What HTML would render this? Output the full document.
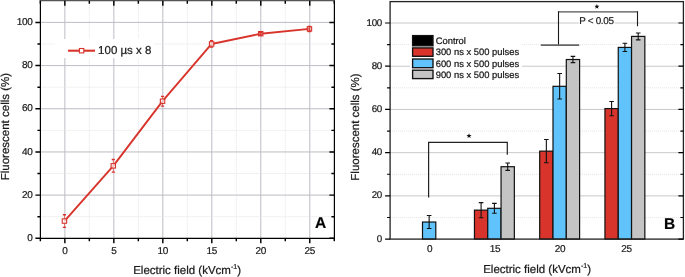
<!DOCTYPE html>
<html><head><meta charset="utf-8"><style>
html,body{margin:0;padding:0;background:#fff;width:685px;height:277px;overflow:hidden}
svg{display:block;font-family:"Liberation Sans", sans-serif;will-change:transform;text-rendering:geometricPrecision}
text{stroke:#1a1a1a;stroke-width:0.22px}
</style></head><body>
<svg width="685" height="277" viewBox="0 0 685 277">
<line x1="64.85" y1="0.81" x2="64.85" y2="238.3" stroke="#bdbdc5" stroke-width="1"/>
<line x1="113.83" y1="0.81" x2="113.83" y2="238.3" stroke="#bdbdc5" stroke-width="1"/>
<line x1="162.82" y1="0.81" x2="162.82" y2="238.3" stroke="#bdbdc5" stroke-width="1"/>
<line x1="211.81" y1="0.81" x2="211.81" y2="238.3" stroke="#bdbdc5" stroke-width="1"/>
<line x1="260.79" y1="0.81" x2="260.79" y2="238.3" stroke="#bdbdc5" stroke-width="1"/>
<line x1="309.77" y1="0.81" x2="309.77" y2="238.3" stroke="#bdbdc5" stroke-width="1"/>
<line x1="89.34" y1="0.81" x2="89.34" y2="238.3" stroke="#e3e3e3" stroke-width="1" stroke-dasharray="1,1"/>
<line x1="138.33" y1="0.81" x2="138.33" y2="238.3" stroke="#e3e3e3" stroke-width="1" stroke-dasharray="1,1"/>
<line x1="187.31" y1="0.81" x2="187.31" y2="238.3" stroke="#e3e3e3" stroke-width="1" stroke-dasharray="1,1"/>
<line x1="236.3" y1="0.81" x2="236.3" y2="238.3" stroke="#e3e3e3" stroke-width="1" stroke-dasharray="1,1"/>
<line x1="285.28" y1="0.81" x2="285.28" y2="238.3" stroke="#e3e3e3" stroke-width="1" stroke-dasharray="1,1"/>
<line x1="40.4" y1="195.12" x2="334.4" y2="195.12" stroke="#bdbdc5" stroke-width="1"/>
<line x1="40.4" y1="151.94" x2="334.4" y2="151.94" stroke="#bdbdc5" stroke-width="1"/>
<line x1="40.4" y1="108.76" x2="334.4" y2="108.76" stroke="#bdbdc5" stroke-width="1"/>
<line x1="40.4" y1="65.58" x2="334.4" y2="65.58" stroke="#bdbdc5" stroke-width="1"/>
<line x1="40.4" y1="22.4" x2="334.4" y2="22.4" stroke="#bdbdc5" stroke-width="1"/>
<line x1="40.4" y1="216.71" x2="334.4" y2="216.71" stroke="#e3e3e3" stroke-width="1" stroke-dasharray="1,1"/>
<line x1="40.4" y1="173.53" x2="334.4" y2="173.53" stroke="#e3e3e3" stroke-width="1" stroke-dasharray="1,1"/>
<line x1="40.4" y1="130.35" x2="334.4" y2="130.35" stroke="#e3e3e3" stroke-width="1" stroke-dasharray="1,1"/>
<line x1="40.4" y1="87.17" x2="334.4" y2="87.17" stroke="#e3e3e3" stroke-width="1" stroke-dasharray="1,1"/>
<line x1="40.4" y1="43.99" x2="334.4" y2="43.99" stroke="#e3e3e3" stroke-width="1" stroke-dasharray="1,1"/>
<rect x="55" y="39" width="99" height="19" fill="#fff"/>
<path d="M64.45,221.05 L113.3,165.85 L162.55,101.2 L211.6,43.95 L260.7,33.7 L309.45,28.9" fill="none" stroke="#d8342c" stroke-width="1.9" stroke-linejoin="round"/>
<rect x="62.25" y="218.85" width="4.4" height="4.4" fill="#fff" fill-opacity="0.7" stroke="#d8342c" stroke-width="1.1"/>
<path d="M64.45,214.75 V218.85 M64.45,223.25 V227.35" stroke="#d8342c" stroke-width="0.65" fill="none"/>
<path d="M62.85,214.75 H66.05 M62.85,227.35 H66.05" stroke="#d8342c" stroke-width="1.3" fill="none"/>
<rect x="111.1" y="163.65" width="4.4" height="4.4" fill="#fff" fill-opacity="0.7" stroke="#d8342c" stroke-width="1.1"/>
<path d="M113.3,159.5 V163.65 M113.3,168.05 V172.2" stroke="#d8342c" stroke-width="0.65" fill="none"/>
<path d="M111.7,159.5 H114.9 M111.7,172.2 H114.9" stroke="#d8342c" stroke-width="1.3" fill="none"/>
<rect x="160.35" y="99" width="4.4" height="4.4" fill="#fff" fill-opacity="0.7" stroke="#d8342c" stroke-width="1.1"/>
<path d="M162.55,96.3 V99 M162.55,103.4 V106.1" stroke="#d8342c" stroke-width="0.65" fill="none"/>
<path d="M160.95,96.3 H164.15 M160.95,106.1 H164.15" stroke="#d8342c" stroke-width="1.3" fill="none"/>
<rect x="209.4" y="41.75" width="4.4" height="4.4" fill="#fff" fill-opacity="0.7" stroke="#d8342c" stroke-width="1.1"/>
<path d="M211.6,40.75 V41.75 M211.6,46.15 V47.15" stroke="#d8342c" stroke-width="0.65" fill="none"/>
<path d="M210,40.75 H213.2 M210,47.15 H213.2" stroke="#d8342c" stroke-width="1.3" fill="none"/>
<rect x="258.5" y="31.5" width="4.4" height="4.4" fill="#ee9e9a" fill-opacity="0.7" stroke="#d8342c" stroke-width="1.1"/>
<path d="M260.7,32.4 V31.5 M260.7,35.9 V35" stroke="#d8342c" stroke-width="0.65" fill="none"/>
<path d="M259.1,32.4 H262.3 M259.1,35 H262.3" stroke="#d8342c" stroke-width="1.3" fill="none"/>
<path d="M260.7,31.5 V35.9" stroke="#d8342c" stroke-width="0.9" fill="none"/>
<rect x="307.25" y="26.7" width="4.4" height="4.4" fill="#ee9e9a" fill-opacity="0.7" stroke="#d8342c" stroke-width="1.1"/>
<path d="M309.45,26.3 V26.7 M309.45,31.1 V31.5" stroke="#d8342c" stroke-width="0.65" fill="none"/>
<path d="M307.85,26.3 H311.05 M307.85,31.5 H311.05" stroke="#d8342c" stroke-width="1.3" fill="none"/>
<path d="M309.45,26.7 V31.1" stroke="#d8342c" stroke-width="0.9" fill="none"/>
<line x1="68" y1="50.7" x2="95" y2="50.7" stroke="#d8342c" stroke-width="2.1"/>
<rect x="79.4" y="48.5" width="4.4" height="4.4" fill="#fff" stroke="#d8342c" stroke-width="1.1"/>
<text x="98.1" y="54.4" font-size="11.5" fill="#1a1a1a">100 µs x 8</text>
<path d="M40.4,0 V238.3 H334.4 V0" fill="none" stroke="#000" stroke-width="1.2"/>
<line x1="39.8" y1="0.6" x2="335" y2="0.6" stroke="#555" stroke-width="1.2"/>
<path d="M35.4,238.3 H40.4 M329.4,238.3 H334.4 M35.4,195.12 H40.4 M329.4,195.12 H334.4 M35.4,151.94 H40.4 M329.4,151.94 H334.4 M35.4,108.76 H40.4 M329.4,108.76 H334.4 M35.4,65.58 H40.4 M329.4,65.58 H334.4 M35.4,22.4 H40.4 M329.4,22.4 H334.4 M37.4,216.71 H40.4 M331.4,216.71 H334.4 M37.4,173.53 H40.4 M331.4,173.53 H334.4 M37.4,130.35 H40.4 M331.4,130.35 H334.4 M37.4,87.17 H40.4 M331.4,87.17 H334.4 M37.4,43.99 H40.4 M331.4,43.99 H334.4 M64.85,238.3 V243.3 M64.85,0.81 V5.81 M113.83,238.3 V243.3 M113.83,0.81 V5.81 M162.82,238.3 V243.3 M162.82,0.81 V5.81 M211.81,238.3 V243.3 M211.81,0.81 V5.81 M260.79,238.3 V243.3 M260.79,0.81 V5.81 M309.77,238.3 V243.3 M309.77,0.81 V5.81 M40.36,238.3 V241.3 M40.36,0.81 V3.81 M89.34,238.3 V241.3 M89.34,0.81 V3.81 M138.33,238.3 V241.3 M138.33,0.81 V3.81 M187.31,238.3 V241.3 M187.31,0.81 V3.81 M236.3,238.3 V241.3 M236.3,0.81 V3.81 M285.28,238.3 V241.3 M285.28,0.81 V3.81 M334.27,238.3 V241.3 M334.27,0.81 V3.81" stroke="#000" stroke-width="1.45" fill="none"/>
<text x="32.4" y="241" font-size="10" letter-spacing="-0.35" text-anchor="end" fill="#1a1a1a">0</text>
<text x="32.4" y="197.82" font-size="10" letter-spacing="-0.35" text-anchor="end" fill="#1a1a1a">20</text>
<text x="32.4" y="154.64" font-size="10" letter-spacing="-0.35" text-anchor="end" fill="#1a1a1a">40</text>
<text x="32.4" y="111.46" font-size="10" letter-spacing="-0.35" text-anchor="end" fill="#1a1a1a">60</text>
<text x="32.4" y="68.28" font-size="10" letter-spacing="-0.35" text-anchor="end" fill="#1a1a1a">80</text>
<text x="32.4" y="25.1" font-size="10" letter-spacing="-0.35" text-anchor="end" fill="#1a1a1a">100</text>
<text x="64.85" y="254" font-size="10" letter-spacing="-0.3" text-anchor="middle" fill="#1a1a1a">0</text>
<text x="113.83" y="254" font-size="10" letter-spacing="-0.3" text-anchor="middle" fill="#1a1a1a">5</text>
<text x="162.82" y="254" font-size="10" letter-spacing="-0.3" text-anchor="middle" fill="#1a1a1a">10</text>
<text x="211.81" y="254" font-size="10" letter-spacing="-0.3" text-anchor="middle" fill="#1a1a1a">15</text>
<text x="260.79" y="254" font-size="10" letter-spacing="-0.3" text-anchor="middle" fill="#1a1a1a">20</text>
<text x="309.77" y="254" font-size="10" letter-spacing="-0.3" text-anchor="middle" fill="#1a1a1a">25</text>
<text x="187.1" y="274.2" font-size="11.5" text-anchor="middle" fill="#1a1a1a">Electric field (kVcm<tspan font-size="7" dy="-5">-1</tspan><tspan dy="5">)</tspan></text>
<text transform="translate(9.0,126.6) rotate(-90)" font-size="11.5" text-anchor="middle" fill="#1a1a1a">Fluorescent cells (%)</text>
<text x="315" y="228.3" font-size="15.5" font-weight="bold" fill="#000">A</text>
<line x1="390.1" y1="195.88" x2="683.4" y2="195.88" stroke="#c8c8ce" stroke-width="1"/>
<line x1="390.1" y1="152.66" x2="683.4" y2="152.66" stroke="#c8c8ce" stroke-width="1"/>
<line x1="390.1" y1="109.44" x2="683.4" y2="109.44" stroke="#c8c8ce" stroke-width="1"/>
<line x1="390.1" y1="66.22" x2="683.4" y2="66.22" stroke="#c8c8ce" stroke-width="1"/>
<line x1="390.1" y1="23" x2="683.4" y2="23" stroke="#c8c8ce" stroke-width="1"/>
<line x1="390.1" y1="217.49" x2="683.4" y2="217.49" stroke="#e3e3e3" stroke-width="1" stroke-dasharray="1,1"/>
<line x1="390.1" y1="174.27" x2="683.4" y2="174.27" stroke="#e3e3e3" stroke-width="1" stroke-dasharray="1,1"/>
<line x1="390.1" y1="131.05" x2="683.4" y2="131.05" stroke="#e3e3e3" stroke-width="1" stroke-dasharray="1,1"/>
<line x1="390.1" y1="87.83" x2="683.4" y2="87.83" stroke="#e3e3e3" stroke-width="1" stroke-dasharray="1,1"/>
<line x1="390.1" y1="44.61" x2="683.4" y2="44.61" stroke="#e3e3e3" stroke-width="1" stroke-dasharray="1,1"/>
<rect x="410" y="33" width="112" height="48" fill="#fff"/>
<rect x="422.5" y="222.03" width="13.3" height="17.07" fill="#60c3fb" stroke="#111" stroke-width="1.2"/>
<path d="M429.15,215.55 V228.51 M426.85,215.55 H431.45 M426.85,228.51 H431.45" stroke="#111" stroke-width="1.1" fill="none"/>
<rect x="474.45" y="210.14" width="13.3" height="28.96" fill="#d8342c" stroke="#111" stroke-width="1.2"/>
<path d="M481.1,202.58 V217.71 M478.8,202.58 H483.4 M478.8,217.71 H483.4" stroke="#111" stroke-width="1.1" fill="none"/>
<rect x="487.75" y="208.31" width="13.3" height="30.79" fill="#60c3fb" stroke="#111" stroke-width="1.2"/>
<path d="M494.4,203.34 V213.28 M492.1,203.34 H496.7 M492.1,213.28 H496.7" stroke="#111" stroke-width="1.1" fill="none"/>
<rect x="501.05" y="166.71" width="13.3" height="72.39" fill="#c4c4c4" stroke="#111" stroke-width="1.2"/>
<path d="M507.7,163.03 V170.38 M505.4,163.03 H510 M505.4,170.38 H510" stroke="#111" stroke-width="1.1" fill="none"/>
<rect x="539.7" y="151.15" width="13.3" height="87.95" fill="#d8342c" stroke="#111" stroke-width="1.2"/>
<path d="M546.35,139.48 V162.82 M544.05,139.48 H548.65 M544.05,162.82 H548.65" stroke="#111" stroke-width="1.1" fill="none"/>
<rect x="553" y="86.32" width="13.3" height="152.78" fill="#60c3fb" stroke="#111" stroke-width="1.2"/>
<path d="M559.65,73.57 V99.07 M557.35,73.57 H561.95 M557.35,99.07 H561.95" stroke="#111" stroke-width="1.1" fill="none"/>
<rect x="566.3" y="59.52" width="13.3" height="179.58" fill="#c4c4c4" stroke="#111" stroke-width="1.2"/>
<path d="M572.95,56.39 V62.65 M570.65,56.39 H575.25 M570.65,62.65 H575.25" stroke="#111" stroke-width="1.1" fill="none"/>
<rect x="604.95" y="108.58" width="13.3" height="130.52" fill="#d8342c" stroke="#111" stroke-width="1.2"/>
<path d="M611.6,101.44 V115.71 M609.3,101.44 H613.9 M609.3,115.71 H613.9" stroke="#111" stroke-width="1.1" fill="none"/>
<rect x="618.25" y="47.42" width="13.3" height="191.68" fill="#60c3fb" stroke="#111" stroke-width="1.2"/>
<path d="M624.9,43.31 V51.53 M622.6,43.31 H627.2 M622.6,51.53 H627.2" stroke="#111" stroke-width="1.1" fill="none"/>
<rect x="631.55" y="36.4" width="13.3" height="202.7" fill="#c4c4c4" stroke="#111" stroke-width="1.2"/>
<path d="M638.2,32.94 V39.86 M635.9,32.94 H640.5 M635.9,39.86 H640.5" stroke="#111" stroke-width="1.1" fill="none"/>
<path d="M428.6,197.5 V142.4 H507.3 V154.7" stroke="#222" stroke-width="1.2" fill="none"/>
<polygon points="469.00,133.20 469.68,134.97 471.57,135.07 470.09,136.26 470.59,138.08 469.00,137.05 467.41,138.08 467.91,136.26 466.43,135.07 468.32,134.97" fill="#111"/>
<path d="M540.8,45.1 H579.2" stroke="#666" stroke-width="1.8" fill="none"/>
<path d="M558.2,11.9 H637.7" stroke="#555" stroke-width="1.4" fill="none"/>
<path d="M558.5,11.3 V44.5 M637.5,11.3 V26.2" stroke="#1a1a1a" stroke-width="1.1" fill="none"/>
<polygon points="596.90,3.90 597.58,5.67 599.47,5.77 597.99,6.96 598.49,8.78 596.90,7.75 595.31,8.78 595.81,6.96 594.33,5.77 596.22,5.67" fill="#111"/>
<rect x="578.8" y="15.5" width="35.9" height="10" fill="#fff"/>
<text x="579.3" y="23.6" font-size="9.9" letter-spacing="-0.32" fill="#1a1a1a">P &lt; 0.05</text>
<rect x="412.6" y="35.6" width="20.4" height="10.2" fill="#000" stroke="#111" stroke-width="1.35"/>
<text x="435.7" y="44.05" font-size="9.4" fill="#111">Control</text>
<rect x="412.6" y="47.9" width="20.4" height="8.4" fill="#d8342c" stroke="#111" stroke-width="1.35"/>
<text x="435.7" y="55.45" font-size="9.4" fill="#111">300 ns x 500 pulses</text>
<rect x="412.6" y="59" width="20.4" height="8.7" fill="#60c3fb" stroke="#111" stroke-width="1.35"/>
<text x="435.7" y="66.7" font-size="9.4" fill="#111">600 ns x 500 pulses</text>
<rect x="412.6" y="70.2" width="20.4" height="8.4" fill="#c4c4c4" stroke="#111" stroke-width="1.35"/>
<text x="435.7" y="77.75" font-size="9.4" fill="#111">900 ns x 500 pulses</text>
<rect x="390.1" y="1.6" width="293.3" height="237.5" fill="none" stroke="#222" stroke-width="1.3"/>
<path d="M385.1,239.1 H390.1 M678.4,239.1 H683.4 M385.1,195.88 H390.1 M678.4,195.88 H683.4 M385.1,152.66 H390.1 M678.4,152.66 H683.4 M385.1,109.44 H390.1 M678.4,109.44 H683.4 M385.1,66.22 H390.1 M678.4,66.22 H683.4 M385.1,23 H390.1 M678.4,23 H683.4 M387.1,217.49 H390.1 M680.4,217.49 H683.4 M387.1,174.27 H390.1 M680.4,174.27 H683.4 M387.1,131.05 H390.1 M680.4,131.05 H683.4 M387.1,87.83 H390.1 M680.4,87.83 H683.4 M387.1,44.61 H390.1 M680.4,44.61 H683.4" stroke="#000" stroke-width="1.2" fill="none"/>
<text x="382.0" y="241.7" font-size="9.8" letter-spacing="-0.3" text-anchor="end" fill="#1a1a1a">0</text>
<text x="382.0" y="198.48" font-size="9.8" letter-spacing="-0.3" text-anchor="end" fill="#1a1a1a">20</text>
<text x="382.0" y="155.26" font-size="9.8" letter-spacing="-0.3" text-anchor="end" fill="#1a1a1a">40</text>
<text x="382.0" y="112.04" font-size="9.8" letter-spacing="-0.3" text-anchor="end" fill="#1a1a1a">60</text>
<text x="382.0" y="68.82" font-size="9.8" letter-spacing="-0.3" text-anchor="end" fill="#1a1a1a">80</text>
<text x="382.0" y="25.6" font-size="9.8" letter-spacing="-0.3" text-anchor="end" fill="#1a1a1a">100</text>
<text x="429.75" y="252" font-size="10" letter-spacing="-0.3" text-anchor="middle" fill="#1a1a1a">0</text>
<text x="495" y="252" font-size="10" letter-spacing="-0.3" text-anchor="middle" fill="#1a1a1a">15</text>
<text x="559.95" y="252" font-size="10" letter-spacing="-0.3" text-anchor="middle" fill="#1a1a1a">20</text>
<text x="626.6" y="252" font-size="10" letter-spacing="-0.3" text-anchor="middle" fill="#1a1a1a">25</text>
<text x="537.1" y="272.8" font-size="11.5" text-anchor="middle" fill="#1a1a1a">Electric field (kVcm<tspan font-size="7" dy="-5">-1</tspan><tspan dy="5">)</tspan></text>
<text transform="translate(358.6,127) rotate(-90)" font-size="11.5" text-anchor="middle" fill="#1a1a1a">Fluorescent cells (%)</text>
<text x="663.9" y="229.2" font-size="15.5" font-weight="bold" fill="#000">B</text>
</svg>
</body></html>
